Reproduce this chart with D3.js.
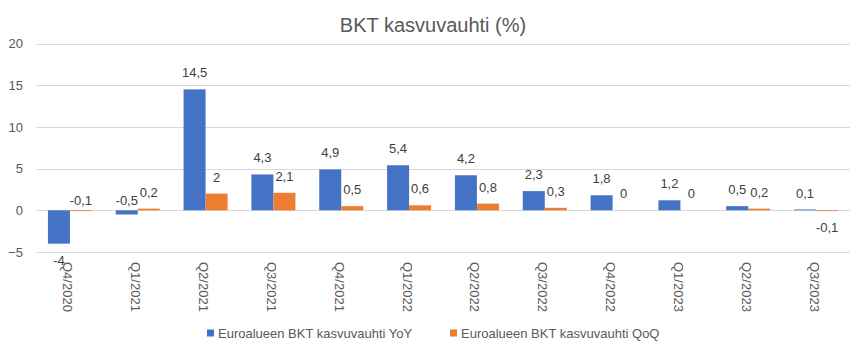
<!DOCTYPE html>
<html><head><meta charset="utf-8">
<script src="https://cdn.jsdelivr.net/npm/d3@7"></script>
<style>
body{margin:0;background:#fff;}
text{font-family:"Liberation Sans",Arial,sans-serif;}
</style></head>
<body><svg id="chart" width="867" height="357"></svg>
<script>
const categories = ["Q4/2020","Q1/2021","Q2/2021","Q3/2021","Q4/2021","Q1/2022","Q2/2022","Q3/2022","Q4/2022","Q1/2023","Q2/2023","Q3/2023"];
const seriesNames = ["Euroalueen BKT kasvuvauhti YoY","Euroalueen BKT kasvuvauhti QoQ"];
const yoyValues = [-4,-0.5,14.5,4.3,4.9,5.4,4.2,2.3,1.8,1.2,0.5,0.1];
const qoqValues = [-0.1,0.2,2,2.1,0.5,0.6,0.8,0.3,0,0,0.2,-0.1];
const yTicks = [-5,0,5,10,15,20];
const titleText = "BKT kasvuvauhti (%)";
// data labels that the reference shows above the zero line although negative
const labelsAboveZero = [[0,1],[1,0]];

(function(){
const colors = ["#4472C4","#ED7D31"];
const svg = d3.select("#chart");
const pLeft = 36, pRight = 850, pTop = 43.5, pBottom = 252;

const x = d3.scaleBand().domain(categories).range([pLeft,pRight]).paddingInner(0).paddingOuter(0);
const innerPad = (x.bandwidth() - 44) / 2;
const xs = d3.scaleBand().domain([0,1]).range([innerPad, x.bandwidth()-innerPad]);
const y = d3.scaleLinear().domain([-5,20]).range([pBottom, pTop]);

// title
svg.append("text").attr("x",433).attr("y",31.5).attr("text-anchor","middle")
  .attr("font-size","20px").attr("fill","#595959").text(titleText);

// gridlines
svg.append("g").selectAll("line").data(yTicks).join("line")
  .attr("x1",pLeft).attr("x2",pRight)
  .attr("y1",d=>Math.round(y(d))+0.5).attr("y2",d=>Math.round(y(d))+0.5)
  .attr("stroke","#D9D9D9").attr("stroke-width",1);

// y axis labels
const yAxis = d3.axisLeft(y).tickValues(yTicks).tickSize(0).tickPadding(0).tickFormat(d3.format("d"));
const ga = svg.append("g").attr("transform",`translate(${23},0)`).call(yAxis);
ga.select(".domain").remove();
ga.selectAll("text").attr("font-size","13px").attr("fill","#595959")
  .attr("font-family","'Liberation Sans',Arial,sans-serif");

const fmt = v => String(v).replace(".",",");
const data = [];
categories.forEach((c,i)=>{
  [yoyValues[i], qoqValues[i]].forEach((v,s)=>data.push({c,i,s,v}));
});

// bars
svg.append("g").selectAll("rect").data(data).join("rect")
  .attr("x",d=>x(d.c)+xs(d.s))
  .attr("width",xs.bandwidth())
  .attr("y",d=>Math.min(y(d.v),y(0)))
  .attr("height",d=>Math.abs(y(d.v)-y(0)))
  .attr("fill",d=>colors[d.s]);

// data labels
const isAbove = d => labelsAboveZero.some(([i,s])=>i===d.i && s===d.s);
svg.append("g").selectAll("text").data(data).join("text")
  .attr("x",d=>x(d.c)+xs(d.s)+xs.bandwidth()/2)
  .attr("y",d=> isAbove(d) ? y(0)-10 : (d.v>=0 ? y(d.v)-16.5 : y(d.v)+16.5))
  .attr("dy","0.35em")
  .attr("text-anchor","middle").attr("font-size","13px").attr("fill","#404040")
  .text(d=>fmt(d.v));

// x axis labels rotated
svg.append("g").selectAll("text").data(categories).join("text")
  .attr("transform",d=>`translate(${x(d)+x.bandwidth()/2-2},262) rotate(90)`)
  .attr("dy","0.35em").attr("text-anchor","start")
  .attr("font-size","13px").attr("fill","#595959").text(d=>d);

// legend
const legendX = [207,450];
const lg = svg.append("g").selectAll("g").data(seriesNames).join("g")
  .attr("transform",(d,i)=>`translate(${legendX[i]},333)`);
lg.append("rect").attr("x",0).attr("y",-3.5).attr("width",7).attr("height",7).attr("fill",(d,i)=>colors[i]);
lg.append("text").attr("x",11).attr("dy","0.35em").attr("font-size","13px").attr("fill","#595959").text(d=>d);
})();
</script></body></html>
